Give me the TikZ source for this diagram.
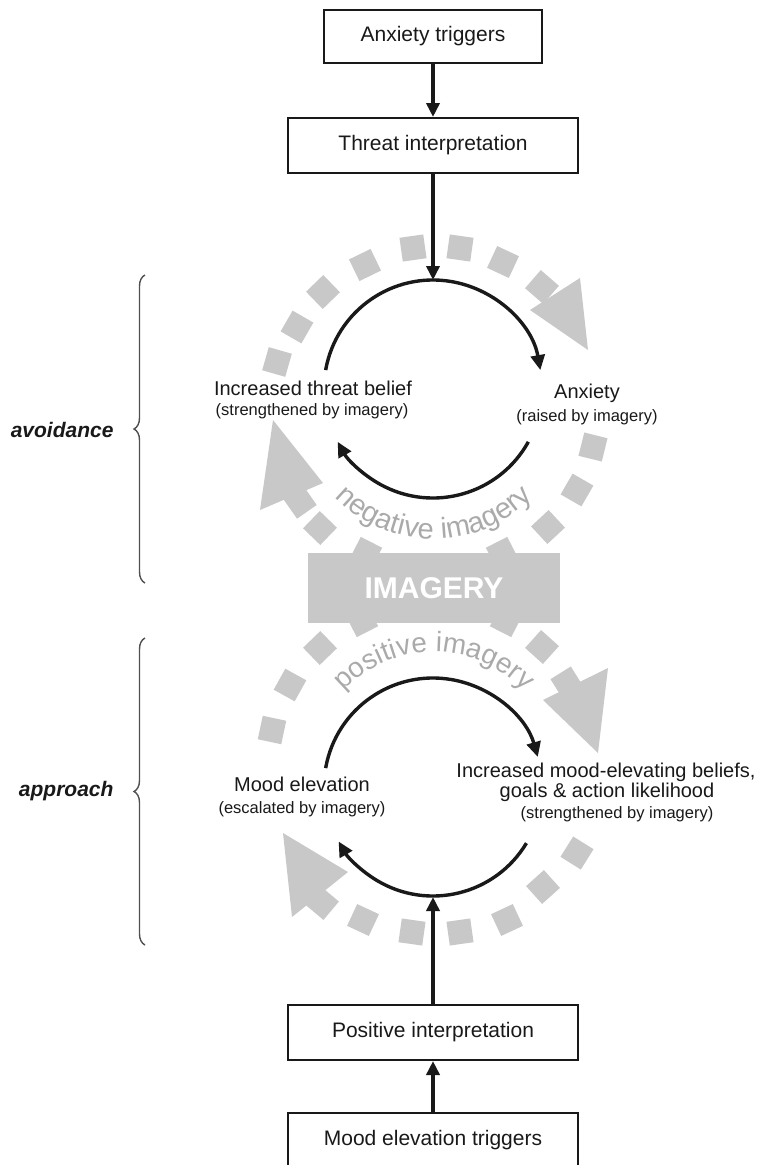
\documentclass[tikz,border=0pt]{standalone}
\usepackage{fontspec}
\setmainfont{Liberation Sans}
\usetikzlibrary{arrows.meta,decorations.pathreplacing,decorations.text}
\definecolor{ringgray}{RGB}{200,200,200}
\definecolor{txtgray}{RGB}{170,170,170}
\definecolor{bracegray}{RGB}{80,80,80}
\definecolor{ink}{RGB}{25,25,25}
\begin{document}
\begin{tikzpicture}[x=1pt,y=1pt,
  box/.style={draw=ink, line width=2pt, minimum width=290pt, minimum height=55pt, inner sep=0pt, text=ink, font=\fontsize{21}{25}\selectfont},
  flow/.style={draw=ink, line width=3.6pt, -{Triangle[length=14pt,width=13pt]}},
  loopar/.style={draw=ink, line width=3.4pt, -{Triangle[length=15pt,width=14pt]}},
  sq/.style={fill=ringgray, minimum size=24pt, inner sep=0pt, rectangle},
  lab/.style={fill=white, inner sep=1pt, text=ink, font=\fontsize{20}{24}\selectfont},
  sublab/.style={fill=white, inner sep=1pt, text=ink, font=\fontsize{16.5}{20}\selectfont},
  side/.style={anchor=east, text=ink, font=\fontsize{21}{25}\selectfont\bfseries\itshape},
  bracestyle/.style={draw=bracegray, line width=1.4pt, decorate, decoration={brace, amplitude=11pt}},
  imgtext/.style={decorate, decoration={text along path, text align=center, text color=txtgray}}
]
\useasboundingbox (0,0) rectangle (781,-1165);

% ---------- gray ring, top ----------
\foreach \x/\y/\r in {277/362/164, 297/327/150, 323/292/134, 365/265/116, 413/248/98,
  460/248/82, 503/262/65, 542/287/49, 593/447/-14, 577/490/-30, 548/527/-47,
  502/553/-63, 320/528/226, 300/502/215, 366/553/243}
  \node[sq, rotate=\r] at (\x,-\y) {};
\fill[ringgray] (530,-310) -- (580,-278) -- (588,-350) -- cycle;
\fill[ringgray] (273,-420) -- (260,-510) -- (323,-483) -- cycle;

% ---------- gray ring, bottom ----------
\foreach \x/\y/\r in {320/648/134, 290/685/151, 272/730/168, 542/647/48, 567/683/32,
  577/853/-32, 543/887/-48, 507/920/-65, 460/932/-82, 412/932/-98, 363/920/-115,
  322/903/230, 362/621/117, 506/621/63}
  \node[sq, rotate=\r] at (\x,-\y) {};
\fill[ringgray] (543,-700) -- (608,-668) -- (598,-753) -- cycle;
\fill[ringgray] (283,-833) -- (292,-917) -- (348,-872) -- cycle;

% ---------- IMAGERY box ----------
\node[fill=ringgray, minimum width=252pt, minimum height=70pt, inner sep=0pt,
  text=white, font=\fontsize{30}{34}\selectfont\bfseries] (img) at (434,-588) {IMAGERY};

% curved texts
\path[imgtext, decoration={text={|\fontsize{29}{29}\selectfont|negative imagery}}]
  (434,-401) ++(205:138) arc[start angle=205, end angle=335, radius=138];
\path[imgtext, decoration={text={|\fontsize{28}{28}\selectfont|positive imagery}}]
  (434,-776) ++(155:124) arc[start angle=155, end angle=25, radius=124];

% ---------- boxes ----------
\node[box, minimum width=218pt, minimum height=53pt] (trig) at (433,-36.5) {Anxiety triggers};
\node[box] (threat) at (433,-145.5) {Threat interpretation};
\node[box] (posint) at (433,-1032.5) {Positive interpretation};
\node[box] (moodtrig) at (433,-1140.5) {Mood elevation triggers};

\coordinate (top1) at (433,-280);
\coordinate (bot2) at (433,-897);
\draw[flow] (trig) -- (threat);
\draw[flow] (threat) -- (top1);
\draw[flow] (moodtrig) -- (posint);
\draw[flow] (posint) -- (bot2);

% ---------- labels ----------
\node[lab] (tb1) at (313,-388) {Increased threat belief};
\node[sublab] (tb2) at (312,-411) {(strengthened by imagery)};
\node[lab] (ax1) at (587,-393) {Anxiety};
\node[sublab] (ax2) at (587,-417) {(raised by imagery)};
\node[lab] (me1) at (302,-784) {Mood elevation};
\node[sublab] (me2) at (302,-809) {(escalated by imagery)};
\node[lab] (mb1) at (606,-772) {Increased mood-elevating beliefs,};
\node[lab] (mb2) at (607,-792) {goals \& action likelihood};
\node[sublab] (mb3) at (617,-814) {(strengthened by imagery)};

% ---------- black cycles ----------
\coordinate (c1) at (433,-389);
\coordinate (c2) at (433,-787);
\draw[loopar] (c1) ++(170:109) arc[start angle=170, end angle=10, radius=109];
\draw[loopar] (c1) ++(-29:109) arc[start angle=-29, end angle=-151, radius=109];
\draw[loopar] (c2) ++(170:109) arc[start angle=170, end angle=16, radius=109];
\draw[loopar] (c2) ++(-31:109) arc[start angle=-31, end angle=-150, radius=109];

% ---------- braces ----------
\draw[bracestyle] (145,-583) -- (145,-275);
\draw[bracestyle] (145,-945) -- (145,-638);
\node[side] (avoid) at (117,-430) {avoidance};
\node[side] (appr) at (117,-791) {approach};
\end{tikzpicture}
\end{document}
